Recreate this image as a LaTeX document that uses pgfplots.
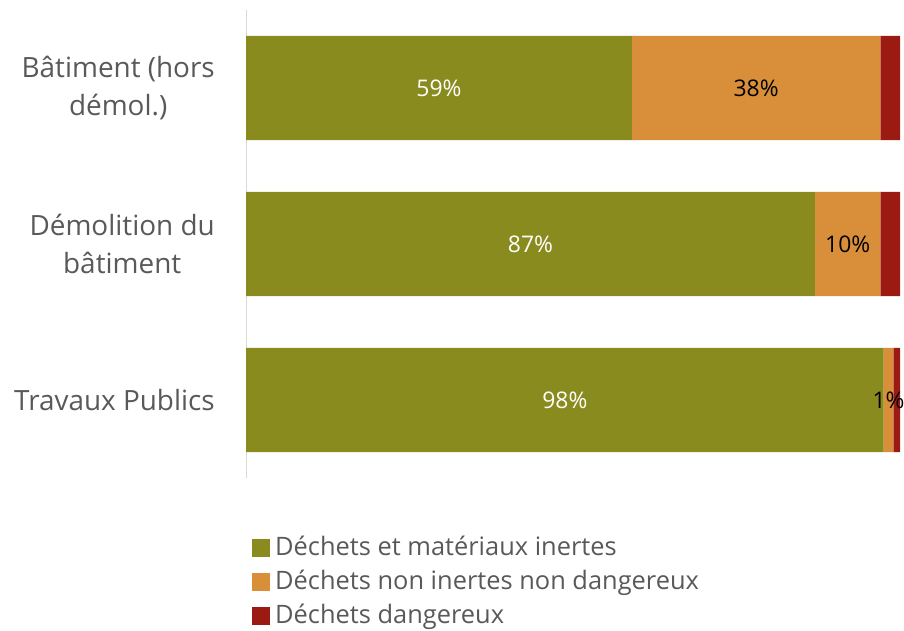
\documentclass[border=0pt]{standalone}
\usepackage{pgfplots}
\usepackage{pgfplotstable}
\pgfplotsset{compat=1.18}
\usepackage{fontspec}
\setmainfont{Open Sans}
\definecolor{cInert}{HTML}{8A8B1E}
\definecolor{cNonInert}{HTML}{D98F3A}
\definecolor{cDang}{HTML}{9B1B12}
\definecolor{txtgrey}{HTML}{595959}
\definecolor{axgrey}{HTML}{D9D9D9}

\pgfplotstableread{
y val label
0 59 59
1 87 87
2 97.5 98
}\inerte
\pgfplotstableread{
y val label
0 38 38
1 10 10
2 1.5 1
}\noninerte
\pgfplotstableread{
y val label
0 3 3
1 3 3
2 1 1
}\dangereux

\begin{document}
\begin{tikzpicture}
\begin{axis}[
  at={(246bp,153bp)}, anchor=south west,
  scale only axis, width=654bp, height=468bp,
  xbar stacked, bar width=0.667,
  xmin=0, xmax=100, ymin=-0.5, ymax=2.5, y dir=reverse,
  axis x line=none, axis y line*=left,
  y axis line style={draw=axgrey, line width=1bp, -},
  ytick={0,1,2},
  yticklabels={{Bâtiment (hors\\démol.)},{Démolition du\\bâtiment},{Travaux Publics}},
  major tick length=0pt,
  yticklabel style={align=center, font=\fontsize{28}{38}\selectfont, text=txtgrey, inner sep=0pt, xshift=-31bp},
  legend image code/.code={\fill[#1] (0bp,-8bp) rectangle (18bp,10bp);},
  legend cell align=left,
  legend style={at={(0,0)}, anchor=north west, xshift=6bp, yshift=-54bp,
    draw=none, fill=none, inner sep=0pt,
    font=\fontsize{25.5}{30}\selectfont, text=txtgrey,
    nodes={text height=19bp, text depth=6bp, inner ysep=4.5bp, inner xsep=5bp}},
  point meta=explicit symbolic,
  every node near coord/.append style={anchor=center, font=\fontsize{23}{28}\selectfont},
]
\addplot[fill=cInert, draw=none, nodes near coords={\pgfplotspointmeta\%},
  every node near coord/.append style={text=white}]
  table[x=val, y=y, meta=label] {\inerte};
\addlegendentry{Déchets et matériaux inertes}
\addplot[fill=cNonInert, draw=none, nodes near coords={\pgfplotspointmeta\%},
  every node near coord/.append style={text=black}]
  table[x=val, y=y, meta=label] {\noninerte};
\addlegendentry{Déchets non inertes non dangereux}
\addplot[fill=cDang, draw=none]
  table[x=val, y=y, meta=label] {\dangereux};
\addlegendentry{Déchets dangereux}
\end{axis}
\pgfresetboundingbox
\useasboundingbox (0,0) rectangle (904bp,631bp);
\end{tikzpicture}
\end{document}
